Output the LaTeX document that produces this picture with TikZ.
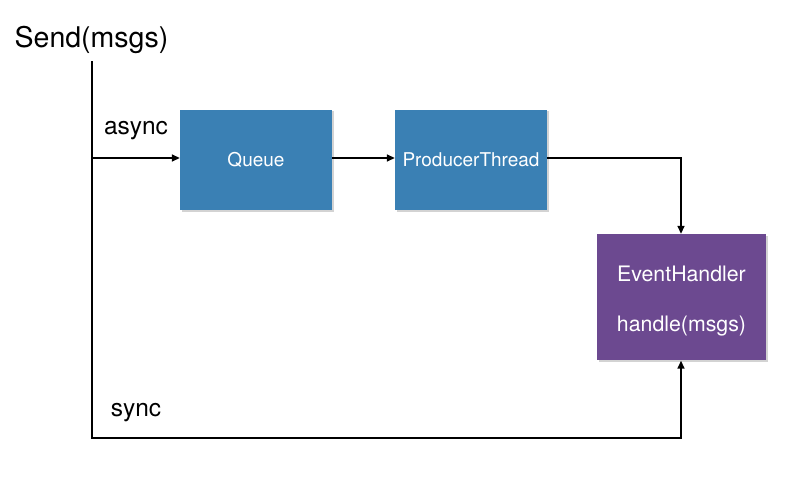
\documentclass[tikz,border=0pt]{standalone}
\usepackage{fontspec}
\setmainfont{TeX Gyre Heros}
\usetikzlibrary{arrows.meta,shadows}
\definecolor{qblue}{HTML}{3A80B4}
\definecolor{ehpurple}{HTML}{6C4990}
\begin{document}
\begin{tikzpicture}[x=1pt,y=-1pt,
  bluebox/.style={fill=qblue,minimum width=152pt,minimum height=100pt,inner sep=0pt,text=white,font=\fontsize{19}{21}\selectfont,drop shadow={shadow xshift=1.5pt,shadow yshift=-1.5pt,opacity=0.35}},
  purplebox/.style={fill=ehpurple,minimum width=169pt,minimum height=126pt,inner sep=0pt,drop shadow={shadow xshift=1.5pt,shadow yshift=-1.5pt,opacity=0.35}},
  ehtext/.style={text=white,font=\fontsize{21.3}{23}\selectfont,inner sep=0pt},
  conn/.style={line width=1.6pt},
  arr/.style={conn,-{Triangle[length=8pt,width=7pt]}},
  lbl/.style={font=\fontsize{24.5}{26}\selectfont,inner sep=0pt}]
\useasboundingbox (0,0) rectangle (812,503);
\node[lbl,font=\fontsize{28.5}{30}\selectfont] (send) at (91.5,40) {Send(msgs)};
\node[bluebox] (queue) at (256,160) {Queue};
\node[bluebox] (prod) at (471,160) {ProducerThread};
\node[purplebox] (eh) at (681.5,297) {};
\node[ehtext] (ehname) at (681.5,274) {EventHandler};
\node[ehtext] (ehfn) at (681.5,326) {handle(msgs)};
\node[lbl] (async) at (136,131) {async};
\node[lbl] (sync) at (136,413) {sync};
\coordinate (top) at (92,62);
\coordinate (asyncpt) at (92,158);
\coordinate (corner) at (92,438);
\coordinate (cornerR) at (681,438);
\draw[conn,line cap=rect] (top) -- (corner) -- (cornerR);
\draw[arr,shorten >=0.5pt] (cornerR) -- (eh.south -| cornerR);
\draw[arr] (asyncpt) -- (queue.west |- asyncpt);
\draw[arr] (queue.east |- asyncpt) -- (prod.west |- asyncpt);
\draw[arr] (prod.east |- asyncpt) -- (cornerR |- asyncpt) -- (eh.north -| cornerR);
\end{tikzpicture}
\end{document}
